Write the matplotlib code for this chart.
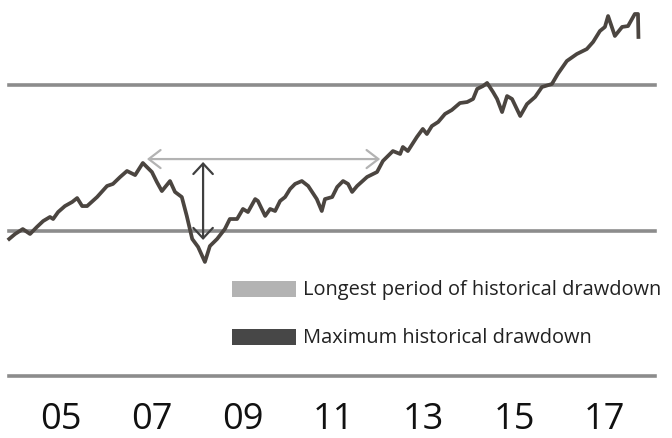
import matplotlib
matplotlib.use("Agg")
import matplotlib.pyplot as plt
from matplotlib.patches import Rectangle

# ---- data (decimal years, index level) ----
dates = [2003.85, 2003.98, 2004.15, 2004.31, 2004.46, 2004.60, 2004.75, 2004.82, 2004.93,
         2005.08, 2005.24, 2005.35, 2005.46, 2005.57, 2005.79, 2006.01, 2006.14, 2006.30,
         2006.45, 2006.63, 2006.80, 2007.00, 2007.11, 2007.22, 2007.40, 2007.51, 2007.66,
         2007.77, 2007.89, 2008.02, 2008.17, 2008.28, 2008.44, 2008.61, 2008.72, 2008.88,
         2009.01, 2009.12, 2009.28, 2009.34, 2009.50, 2009.61, 2009.72, 2009.83, 2009.94,
         2010.05, 2010.16, 2010.31, 2010.45, 2010.64, 2010.75, 2010.82, 2010.98, 2011.09,
         2011.22, 2011.33, 2011.42, 2011.53, 2011.75, 2011.97, 2012.10, 2012.32, 2012.48,
         2012.54, 2012.65, 2012.85, 2012.98, 2013.07, 2013.18, 2013.32, 2013.47, 2013.62,
         2013.80, 2013.96, 2014.09, 2014.18, 2014.31, 2014.40, 2014.53, 2014.62, 2014.73,
         2014.84, 2014.95, 2015.13, 2015.28, 2015.46, 2015.61, 2015.83, 2015.96, 2016.16,
         2016.38, 2016.60, 2016.74, 2016.89, 2017.00, 2017.07, 2017.22, 2017.38, 2017.51,
         2017.66, 2017.73, 2017.74]
values = [94.2, 97.6, 101.0, 97.6, 102.4, 106.5, 109.3, 107.9, 112.7,
          116.8, 119.6, 122.3, 116.8, 116.8, 123.0, 130.6, 132.0, 136.8,
          140.9, 138.1, 146.4, 140.2, 133.3, 127.1, 134.0, 126.5, 123.0,
          110.0, 94.2, 88.7, 78.4, 89.3, 94.2, 101.0, 107.9, 107.9,
          114.8, 112.7, 121.6, 120.3, 110.0, 114.8, 113.4, 120.3, 123.0,
          128.5, 132.0, 134.0, 130.6, 121.6, 113.4, 121.6, 123.0, 129.9,
          134.0, 132.0, 126.5, 130.6, 136.8, 140.2, 147.8, 154.6, 152.6,
          157.4, 154.6, 164.3, 169.8, 166.3, 171.8, 174.6, 180.1, 182.8,
          187.6, 188.3, 190.4, 197.3, 199.3, 201.4, 195.2, 190.4, 181.4,
          192.4, 190.4, 178.7, 186.9, 191.8, 198.6, 200.7, 207.6, 216.5,
          221.3, 224.7, 229.6, 237.1, 239.9, 247.4, 233.7, 239.9, 240.5,
          248.8, 248.8, 233.0]

grid_levels = [0, 100, 200]
tick_years = [2005, 2007, 2009, 2011, 2013, 2015, 2017]
tick_labels = ["05", "07", "09", "11", "13", "15", "17"]

# drawdown annotations
longest_start, longest_end, longest_level = 2006.89, 2012.04, 149.1
maxdd_date, maxdd_top, maxdd_bottom = 2008.13, 147.1, 93.5

legend_labels = ["Longest period of historical drawdown", "Maximum historical drawdown"]
legend_colors = ["#b3b3b3", "#474747"]

FONT = ["Open Sans", "DejaVu Sans"]

fig = plt.figure(figsize=(6.72, 4.39), dpi=100)
ax = fig.add_axes([0, 0, 1, 1])
ax.set_xlim(2003.647, 2018.481)
ax.set_ylim(-42.6, 259.1)
ax.axis("off")

for g in grid_levels:
    ax.axhline(g, xmin=9 / 672, xmax=655 / 672, color="#8c8c8c", lw=2.6, zorder=1)

ax.plot(dates, values, color="#4b4540", lw=2.7, solid_joinstyle="round", zorder=3)

ax.annotate("", xy=(longest_end, longest_level), xytext=(longest_start, longest_level),
            arrowprops=dict(arrowstyle="<->,head_length=0.85,head_width=0.65",
                            color="#b3b3b3", lw=1.6, shrinkA=0, shrinkB=0), zorder=2)
ax.annotate("", xy=(maxdd_date, maxdd_bottom), xytext=(maxdd_date, maxdd_top),
            arrowprops=dict(arrowstyle="<->,head_length=0.75,head_width=0.7",
                            color="#3f3f3f", lw=1.6, shrinkA=0, shrinkB=0), zorder=4)

# legend
for i, (lab, col) in enumerate(zip(legend_labels, legend_colors)):
    yb = 0.321 - i * 0.109
    ax.add_patch(Rectangle((0.345, yb), 0.095, 0.037, transform=ax.transAxes,
                           facecolor=col, edgecolor="none"))
    ax.text(0.451, yb + 0.0185, lab, transform=ax.transAxes, ha="left", va="center",
            fontsize=14.4, color="#222222", family=FONT)

for yr, lab in zip(tick_years, tick_labels):
    ax.text(yr, -41.9, lab, ha="center", va="bottom", fontsize=26,
            color="#111111", family=FONT)

fig.savefig("out.png", dpi=100)
